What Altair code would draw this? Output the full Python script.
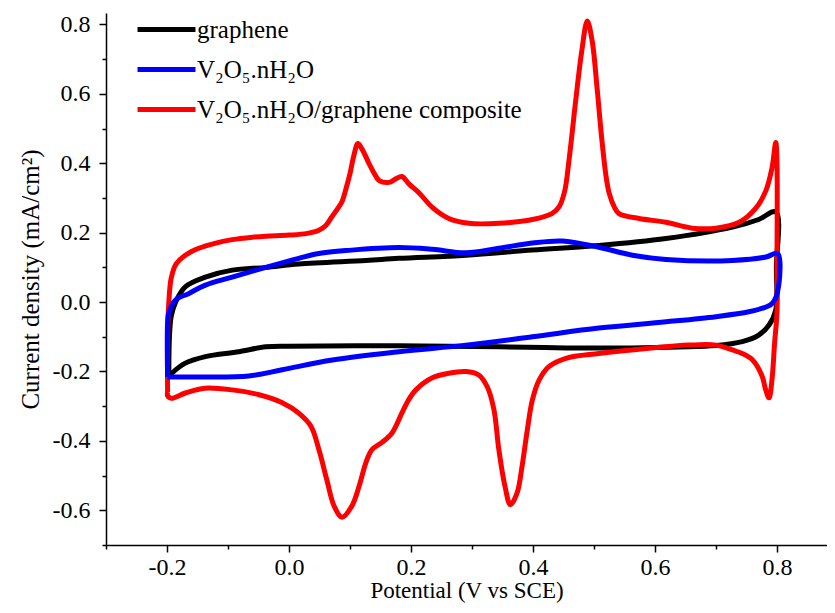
import altair as alt
import pandas as pd

series_names = ["graphene", "V₂O₅.nH₂O", "V₂O₅.nH₂O/graphene composite"]
series_colors = ["#000000", "#0000ff", "#ff0000"]

# graphene (black)
g_x = [-0.197, -0.196, -0.193, -0.186, -0.17, -0.137, -0.093, -0.038, 0.016, 0.126, 0.18, 0.29, 0.399,
       0.508, 0.618, 0.727, 0.77, 0.798, 0.799, 0.798, 0.787, 0.77, 0.743, 0.70, 0.563, 0.454, 0.344,
       0.18, 0.0, -0.038, -0.082, -0.137, -0.17, -0.192, -0.197]
g_y = [-0.215, -0.10, -0.04, 0.0, 0.044, 0.072, 0.092, 0.10, 0.11, 0.12, 0.126, 0.135, 0.15,
       0.163, 0.183, 0.216, 0.238, 0.26, 0.10, -0.023, -0.066, -0.095, -0.114, -0.125, -0.132, -0.132, -0.129,
       -0.126, -0.127, -0.129, -0.143, -0.157, -0.176, -0.205, -0.215]

# V2O5.nH2O (blue)
v_x = [-0.199, -0.199, -0.197, -0.186, -0.164, -0.137, -0.093, -0.038, 0.016, 0.049, 0.098, 0.18, 0.235,
       0.29, 0.344, 0.399, 0.448, 0.508, 0.563, 0.618, 0.727, 0.782, 0.801, 0.801, 0.792, 0.782, 0.754,
       0.70, 0.618, 0.508, 0.399, 0.29, 0.18, 0.071, -0.011, -0.066, -0.148, -0.199]
v_y = [-0.216, -0.06, -0.03, 0.006, 0.025, 0.049, 0.072, 0.10, 0.126, 0.14, 0.149, 0.157, 0.152,
       0.142, 0.155, 0.170, 0.176, 0.158, 0.135, 0.123, 0.12, 0.13, 0.14, 0.03, -0.004, -0.014, -0.028,
       -0.042, -0.057, -0.075, -0.10, -0.124, -0.143, -0.167, -0.195, -0.213, -0.216, -0.216]

# composite (red)
c_x = [-0.199, -0.199, -0.197, -0.193, -0.185, -0.17, -0.148, -0.12, -0.093, -0.06, -0.038, 0.0, 0.03,
       0.049, 0.06, 0.07, 0.08, 0.087, 0.094, 0.1, 0.106, 0.113, 0.12, 0.131, 0.14, 0.148, 0.164, 0.175,
       0.185, 0.197, 0.213, 0.235, 0.262, 0.295, 0.344, 0.399, 0.431, 0.443, 0.452, 0.459, 0.470, 0.48,
       0.489, 0.497, 0.505, 0.513, 0.52, 0.525, 0.533, 0.541, 0.574, 0.618, 0.661, 0.70, 0.738, 0.765,
       0.782, 0.792, 0.798, 0.800, 0.800, 0.800,
       0.796, 0.792, 0.787, 0.781, 0.776, 0.76, 0.743, 0.727, 0.70, 0.656, 0.59, 0.508, 0.454, 0.426,
       0.41, 0.399, 0.39, 0.382, 0.374, 0.363, 0.354, 0.344, 0.336, 0.325, 0.311, 0.29, 0.262, 0.235,
       0.208, 0.195, 0.185, 0.169, 0.152, 0.136, 0.126, 0.115, 0.103, 0.087, 0.074, 0.062, 0.049, 0.036,
       0.016, -0.011, -0.049, -0.093, -0.138, -0.17, -0.193, -0.199, -0.199]
c_y = [-0.26, -0.10, 0.00, 0.07, 0.11, 0.135, 0.155, 0.17, 0.18, 0.187, 0.19, 0.193, 0.198,
       0.207, 0.22, 0.245, 0.27, 0.29, 0.33, 0.37, 0.42, 0.457, 0.44, 0.40, 0.37, 0.35, 0.345, 0.355,
       0.362, 0.34, 0.315, 0.273, 0.241, 0.227, 0.227, 0.238, 0.255, 0.275, 0.32, 0.408, 0.58, 0.724,
       0.81, 0.753, 0.618, 0.466, 0.36, 0.313, 0.275, 0.255, 0.241, 0.23, 0.213, 0.213, 0.23, 0.27,
       0.322, 0.388, 0.46, 0.40, 0.10, -0.03,
       -0.12, -0.22, -0.276, -0.25, -0.215, -0.167, -0.148, -0.138, -0.124, -0.124, -0.133, -0.148, -0.162, -0.186,
       -0.225, -0.282, -0.377, -0.474, -0.55, -0.584, -0.53, -0.425, -0.31, -0.244, -0.21, -0.2, -0.205, -0.218,
       -0.253, -0.285, -0.32, -0.377, -0.405, -0.425, -0.463, -0.53, -0.588, -0.62, -0.588, -0.512, -0.425, -0.358,
       -0.32, -0.29, -0.267, -0.253, -0.248, -0.262, -0.277, -0.27, -0.26]

x_major = [-0.2, 0.0, 0.2, 0.4, 0.6, 0.8]
x_minor = [-0.3, -0.1, 0.1, 0.3, 0.5, 0.7]
y_major = [-0.6, -0.4, -0.2, 0.0, 0.2, 0.4, 0.6, 0.8]
y_minor = [-0.7, -0.5, -0.3, -0.1, 0.1, 0.3, 0.5, 0.7]

rows = []
for name, xs, ys in [(series_names[0], g_x, g_y), (series_names[2], c_x, c_y), (series_names[1], v_x, v_y)]:
    for i, (a, b) in enumerate(zip(xs, ys)):
        rows.append({"series": name, "E": a, "J": b, "idx": i})
df = pd.DataFrame(rows)

FONT = "Liberation Serif"
label_expr = "(datum.value < -0.001 ? '-' : '') + format(abs(datum.value), '.1f')"
xscale = alt.Scale(domain=[-0.3, 0.882], nice=False, zero=False)
yscale = alt.Scale(domain=[-0.7, 0.833], nice=False, zero=False)

lines = alt.Chart(df).mark_line(strokeWidth=5, strokeJoin="round", interpolate="catmull-rom").encode(
    x=alt.X("E:Q", scale=xscale,
            axis=alt.Axis(title="Potential (V vs SCE)", values=x_major, labelExpr=label_expr, orient="bottom",
                          grid=False, tickSize=7, labelFont=FONT, labelFontSize=24, titleFont=FONT,
                          titleFontSize=23, labelPadding=3, titlePadding=0, labelFlush=False,
                          labelOverlap=False)),
    y=alt.Y("J:Q", scale=yscale,
            axis=alt.Axis(title="Current density (mA/cm²)", values=y_major, labelExpr=label_expr, orient="left",
                          grid=False, tickSize=7, labelFont=FONT, labelFontSize=24, titleFont=FONT,
                          titleFontSize=25, labelPadding=9, titlePadding=9, labelFlush=False,
                          labelOverlap=False)),
    color=alt.Color("series:N", scale=alt.Scale(domain=series_names, range=series_colors),
                    legend=alt.Legend(title=None, orient="none", legendX=48, legendY=4, padding=0,
                                      symbolType="M-4,0H4", symbolSize=210, symbolStrokeWidth=5,
                                      labelOffset=18, rowPadding=14, labelFontSize=25, labelFont=FONT,
                                      labelColor="black", labelLimit=500)),
    order="idx:Q",
)

minor = alt.Chart(df).mark_point(opacity=0, size=1).encode(
    x=alt.X("E:Q", scale=xscale,
            axis=alt.Axis(title=None, values=x_minor, labels=False, domain=False, grid=False,
                          tickSize=4, orient="bottom")),
    y=alt.Y("J:Q", scale=yscale,
            axis=alt.Axis(title=None, values=y_minor, labels=False, domain=False, grid=False,
                          tickSize=4, orient="left")),
)

chart = alt.layer(lines, minor).resolve_axis(x="independent", y="independent").properties(
    width=721, height=532,
    autosize=alt.AutoSizeParams(type="none"),
    padding={"left": 98, "top": 5, "right": 0, "bottom": 60},
).configure_view(stroke=None).configure_axis(
    domainColor="black", domainWidth=1.5, tickColor="black", tickWidth=1.5,
    labelFont=FONT, labelColor="black",
    titleFont=FONT, titleFontWeight="normal", titleColor="black",
)

chart.save("out.html", embed_options={"renderer": "svg", "actions": False})
